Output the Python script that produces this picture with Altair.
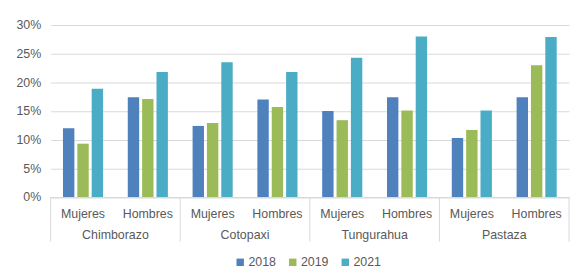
import altair as alt
import pandas as pd

provinces = ["Chimborazo", "Cotopaxi", "Tungurahua", "Pastaza"]
sexes = ["Mujeres", "Hombres"]
years = ["2018", "2019", "2021"]
# values in %, order: province x (Mujeres, Hombres)
v2018 = [12.0, 17.4, 12.4, 17.0, 15.0, 17.4, 10.3, 17.4]
v2019 = [9.3, 17.1, 12.9, 15.7, 13.4, 15.1, 11.7, 23.0]
v2021 = [18.9, 21.8, 23.5, 21.8, 24.3, 28.0, 15.1, 27.9]
colors = ["#4F81BD", "#9BBB59", "#4BACC6"]

rows = []
series = {"2018": v2018, "2019": v2019, "2021": v2021}
keys = [p + "|" + s for p in provinces for s in sexes]
for y in years:
    for i, k in enumerate(keys):
        p, s = k.split("|")
        rows.append({"key": k, "province": p, "sex": s, "year": y, "value": series[y][i]})
df = pd.DataFrame(rows)

W = 523
H = 173.5
FONT = "Liberation Sans"
TXT = "#595959"
GRID = "#d9d9d9"
FS = 12.5

xscale = alt.Scale(domain=keys, paddingInner=0, paddingOuter=0)
pscale = alt.Scale(domain=provinces, paddingInner=0, paddingOuter=0)

bars = alt.Chart(df).mark_bar().encode(
    x=alt.X("key:N", sort=keys, title=None, scale=xscale,
            axis=alt.Axis(labelAngle=0, ticks=False, domainColor=GRID,
                          labelPadding=11, labelFontSize=FS, labelColor=TXT,
                          labelFont=FONT,
                          labelExpr="split(datum.value, '|')[1]")),
    xOffset=alt.XOffset("year:N", sort=years,
                        scale=alt.Scale(paddingInner=0.207, paddingOuter=0.86)),
    y=alt.Y("value:Q", title=None, scale=alt.Scale(domain=[0, 30]),
            axis=alt.Axis(values=[0, 5, 10, 15, 20, 25, 30],
                          labelExpr="datum.value + '%'", domain=False,
                          ticks=False, gridColor=GRID, labelPadding=10,
                          labelFontSize=FS, labelColor=TXT, labelFont=FONT)),
    color=alt.Color("year:N", sort=years, title=None,
                    scale=alt.Scale(domain=years, range=colors),
                    legend=alt.Legend(orient="none", legendX=185, legendY=233,
                                      direction="horizontal",
                                      symbolType="square",
                                      symbolSize=56, labelFontSize=FS,
                                      labelColor=TXT, labelFont=FONT,
                                      symbolStrokeWidth=0, columnPadding=10,
                                      labelOffset=2)),
)

sep = df[(df["year"] == "2018") & (df["sex"] == "Mujeres")]

prov_layer = alt.Chart(sep).mark_rule(color=GRID).encode(
    x=alt.X("province:N", sort=provinces, title=None, scale=pscale,
            bandPosition=0,
            axis=alt.Axis(orient="bottom", labelAngle=0, ticks=False,
                          domain=False, labelPadding=32, labelFontSize=FS,
                          labelColor=TXT, labelFont=FONT)),
    y=alt.value(H), y2=alt.value(H + 45),
)

last = sep[sep["province"] == provinces[-1]]
right_rule = alt.Chart(last).mark_rule(color=GRID).encode(
    x=alt.X("province:N", sort=provinces, scale=pscale, bandPosition=1,
            axis=None),
    y=alt.value(H), y2=alt.value(H + 45),
)

chart = alt.layer(bars, prov_layer, right_rule).resolve_scale(
    x="independent"
).resolve_axis(
    x="independent"
).properties(
    width=W, height=H,
    padding={"left": 7, "top": 10, "right": 5, "bottom": 5},
).configure_view(stroke=None)

chart.save("out.html", embed_options={"renderer": "svg", "actions": False})
